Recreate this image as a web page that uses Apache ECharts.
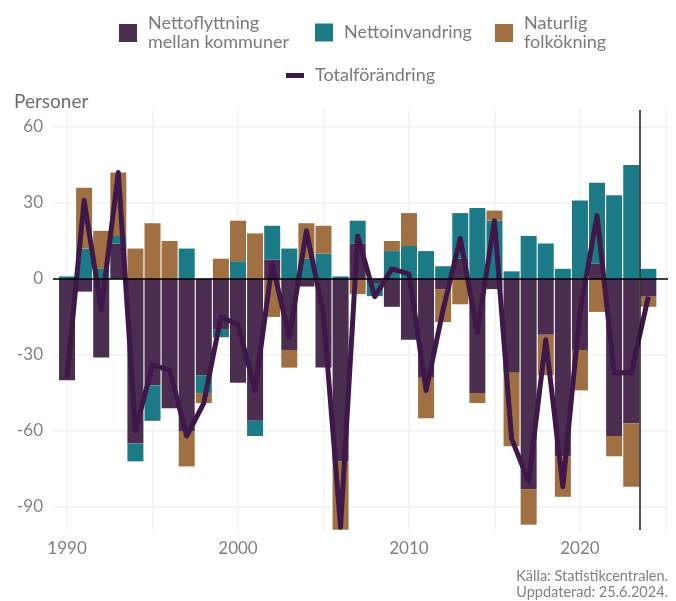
<!DOCTYPE html>
<html>
<head>
<meta charset="utf-8">
<script src="https://cdn.jsdelivr.net/npm/echarts@6/dist/echarts.min.js"></script>
<style>
  html, body { margin: 0; padding: 0; background: #fff; }
  #chart { width: 676px; height: 601px; }
</style>
</head>
<body>
<div id="chart"></div>
<script>
const years = [
  1990, 1991, 1992, 1993, 1994, 1995, 1996, 1997, 1998, 1999,
  2000, 2001, 2002, 2003, 2004, 2005, 2006, 2007, 2008, 2009,
  2010, 2011, 2012, 2013, 2014, 2015, 2016, 2017, 2018, 2019,
  2020, 2021, 2022, 2023, 2024,
];
// Nettoflyttning mellan kommuner
const flyttning = [
  -40, -5, -31, 14, -65, -42, -51, -60, -38, -20,
  -41, -56, 7.6, -28, -3, -35, -72, 14, -1.6, -11,
  -24, -39, -4, 8, -45, -4, -37, -83, -22, -70,
  -28, 6, -62, -57, -7,
];
// Nettoinvandring
const invandring = [
  1, 12, 4, 3, -7, -14, 0, 12, -7, -3,
  7, -6, 13.4, 12, 8, 10, 1, 9, -5.2, 11,
  13, 11, 5, 18, 28, 23, 3, 17, 14, 4,
  31, 32, 33, 45, 4,
];
// Naturlig folkökning
const folkokning = [
  0, 24, 15, 25, 12, 22, 15, -14, -4, 8,
  16, 18, -15, -7, 14, 11, -27, -6, 0, 4,
  13, -16, -13, -10, -4, 4, -29, -14, -16, -16,
  -16, -13, -8, -25, -4,
];
// Totalförändring
const total = [
  -39, 31, -12, 42, -60, -34, -36, -62, -49, -15,
  -18, -44, 6, -23, 19, -14, -98, 17, -7, 4,
  2, -44, -12, 16, -21, 23, -63, -80, -24, -82,
  -13, 25, -37, -37, -7,
];
const yTicks = [-90, -60, -30, 0, 30, 60];
const xGridTicks = [1990, 1995, 2000, 2005, 2010, 2015, 2020, 2025];
const xLabels = [1990, 2000, 2010, 2020];

const FONT = "Lato";
const names = {
  flytt: "Nettoflyttning mellan kommuner",
  inv: "Nettoinvandring",
  folk: "Naturlig folkökning",
  tot: "Totalförändring",
};

// value first so the stack runs along y, year second
function pairs(vals) {
  return years.map((y, i) => [vals[i], y]);
}

function legendAt(left, top, name, extra) {
  return Object.assign(
    {
      left: left,
      top: top,
      data: [name],
      itemWidth: 18,
      itemHeight: 18,
      icon: "rect",
      selectedMode: false,
      formatter: (n) => n.replace(" mellan", "\nmellan").replace(" folk", "\nfolk"),
      textStyle: {
        color: "#7a7a7a",
        fontFamily: FONT,
        fontSize: 18,
        lineHeight: 19,
        padding: [0, 0, 0, 6],
      },
    },
    extra || {}
  );
}

const chart = echarts.init(document.getElementById("chart"), null, { renderer: "canvas" });

const barBase = {
  type: "bar",
  stack: "all",
  barWidth: 16,
  z: 2,
  encode: { x: 1, y: 0 },
};

let option = {
  animation: false,
  backgroundColor: "#ffffff",
  textStyle: { fontFamily: FONT },
  legend: [
    legendAt(114, 9, names.flytt),
    legendAt(310, 18, names.inv),
    legendAt(490, 9, names.folk),
    legendAt(281, 61, names.tot, { itemHeight: 5 }),
  ],
  grid: {
    left: 53,
    right: 8,
    top: 110,
    bottom: 71,
  },
  xAxis: {
    type: "value",
    min: 1989.18,
    max: 2025.15,
    axisLine: { show: false },
    axisTick: { show: false, customValues: xGridTicks },
    axisLabel: {
      customValues: xLabels,
      color: "#808080",
      fontSize: 17,
      fontFamily: FONT,
      margin: 10,
      formatter: (v) => String(v),
    },
    splitLine: {
      show: true,
      lineStyle: { color: "#f0f0f0", width: 1.5 },
    },
  },
  yAxis: {
    type: "value",
    min: -99.1,
    max: 66.7,
    axisLine: { show: false },
    axisTick: { show: false, customValues: yTicks },
    axisLabel: {
      customValues: yTicks,
      color: "#808080",
      fontSize: 17,
      fontFamily: FONT,
      margin: 10,
    },
    splitLine: {
      show: true,
      lineStyle: { color: "#f0f0f0", width: 1.5 },
    },
  },
  graphic: [
    {
      type: "text",
      left: 14,
      top: 92,
      style: { text: "Personer", fill: "#6e6e6e", font: "19px " + FONT },
    },
    {
      type: "text",
      right: 8,
      top: 568,
      style: {
        text: "Källa: Statistikcentralen.\nUppdaterad: 25.6.2024.",
        fill: "#808080",
        font: "14.5px " + FONT,
        lineHeight: 16,
        align: "right",
      },
    },
  ],
  series: [
    Object.assign({}, barBase, {
      name: names.flytt,
      data: pairs(flyttning),
      itemStyle: { color: "#4b2d50" },
    }),
    Object.assign({}, barBase, {
      name: names.inv,
      data: pairs(invandring),
      itemStyle: { color: "#1b7a86" },
    }),
    Object.assign({}, barBase, {
      name: names.folk,
      data: pairs(folkokning),
      itemStyle: { color: "#a07043" },
    }),
    {
      type: "line",
      name: "refLines",
      data: [],
      z: 3,
      silent: true,
      markLine: {
        silent: true,
        symbol: "none",
        label: { show: false },
        animation: false,
        data: [
          { yAxis: 0, lineStyle: { color: "#000", width: 1.5, type: "solid" } },
          { xAxis: 2023.47, lineStyle: { color: "#1a1a1a", width: 1.5, type: "solid" } },
        ],
      },
    },
    {
      type: "line",
      name: names.tot,
      data: pairs(total),
      encode: { x: 1, y: 0 },
      z: 4,
      symbol: "none",
      showSymbol: false,
      itemStyle: { color: "#3d1848" },
      lineStyle: { color: "#3d1848", width: 5, join: "round" },
    },
  ],
};

chart.setOption(option, true);
</script>
</body>
</html>
